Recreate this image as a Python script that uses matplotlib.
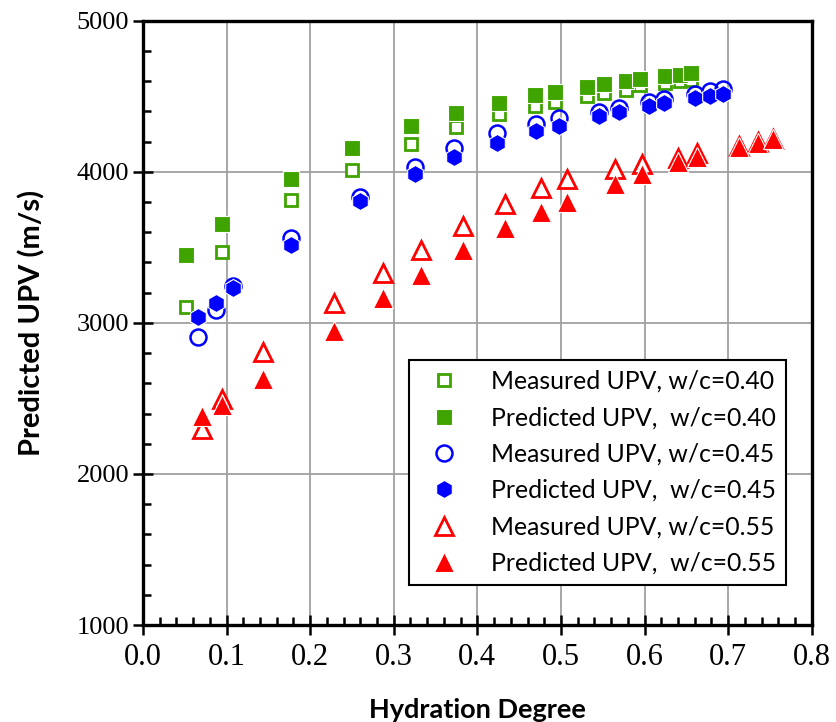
import matplotlib
matplotlib.use("Agg")
import matplotlib.pyplot as plt
from matplotlib.ticker import MultipleLocator, FixedLocator

# ---------------- data ----------------
x_040 = [0.051, 0.095, 0.177, 0.250, 0.321, 0.374, 0.426, 0.469, 0.493, 0.531,
         0.551, 0.578, 0.594, 0.625, 0.642, 0.655]
meas_040 = [3104, 3468, 3814, 4013, 4185, 4299, 4383, 4438, 4460, 4502,
            4520, 4542, 4572, 4590, 4598, 4606]
pred_040 = [3450, 3656, 3953, 4158, 4304, 4388, 4458, 4509, 4530, 4563,
            4581, 4601, 4612, 4636, 4641, 4652]

x_045 = [0.066, 0.087, 0.108, 0.177, 0.260, 0.326, 0.372, 0.423, 0.470, 0.498,
         0.546, 0.570, 0.605, 0.623, 0.660, 0.678, 0.694]
meas_045 = [2906, 3082, 3247, 3561, 3836, 4034, 4156, 4255, 4317, 4354,
            4398, 4421, 4464, 4480, 4515, 4537, 4546]
pred_045 = [3036, 3131, 3230, 3515, 3810, 3986, 4097, 4189, 4271, 4304,
            4370, 4398, 4436, 4454, 4487, 4502, 4515]

x_055 = [0.071, 0.094, 0.144, 0.228, 0.287, 0.333, 0.383, 0.433, 0.476, 0.507,
         0.565, 0.597, 0.640, 0.663, 0.713, 0.736, 0.754]
meas_055 = [2299, 2495, 2807, 3131, 3329, 3483, 3638, 3786, 3892, 3951,
            4019, 4050, 4094, 4123, 4172, 4198, 4220]
pred_055 = [2386, 2458, 2628, 2943, 3164, 3318, 3483, 3627, 3737, 3803,
            3918, 3986, 4063, 4097, 4167, 4193, 4216]

x_ticks = [0.0, 0.1, 0.2, 0.3, 0.4, 0.5, 0.6, 0.7, 0.8]
x_tick_labels = ["0.0", "0.1", "0.2", "0.3", "0.4", "0.5", "0.6", "0.7", "0.8"]
y_ticks = [1000, 2000, 3000, 4000, 5000]
y_tick_labels = ["1000", "2000", "3000", "4000", "5000"]

labels = ["Measured UPV, w/c=0.40", "Predicted UPV,  w/c=0.40",
          "Measured UPV, w/c=0.45", "Predicted UPV,  w/c=0.45",
          "Measured UPV, w/c=0.55", "Predicted UPV,  w/c=0.55"]

GREEN = "#3fa300"
BLUE = "#0000ff"
RED = "#ff0000"

# ---------------- figure ----------------
fig = plt.figure(figsize=(8.36, 7.22), dpi=100)
ax = fig.add_axes([0.171, 0.1343, 0.800, 0.837])

ax.plot(x_040, meas_040, ls="none", marker="s", ms=9, mfc="white", mec=GREEN, mew=2.0,
        label=labels[0], zorder=3)
ax.plot(x_040, pred_040, ls="none", marker="s", ms=12, mfc=GREEN, mec="white", mew=0.8,
        label=labels[1], zorder=4)
ax.plot(x_045, meas_045, ls="none", marker="o", ms=11.5, mfc="none", mec=BLUE, mew=1.8,
        label=labels[2], zorder=5)
ax.plot(x_045, pred_045, ls="none", marker="h", ms=13, mfc=BLUE, mec="white", mew=0.8,
        label=labels[3], zorder=6)
ax.plot(x_055, meas_055, ls="none", marker="^", ms=12.5, mfc="white", mec=RED, mew=2.0,
        label=labels[4], zorder=7)
ax.plot(x_055, pred_055, ls="none", marker="^", ms=14, mfc=RED, mec="white", mew=0.8,
        label=labels[5], zorder=8)

ax.set_xlim(0.0, 0.8)
ax.set_ylim(1000, 5000)

ax.xaxis.set_major_locator(FixedLocator(x_ticks))
ax.yaxis.set_major_locator(FixedLocator(y_ticks))
ax.set_xticklabels(x_tick_labels)
ax.set_yticklabels(y_tick_labels)
ax.xaxis.set_minor_locator(MultipleLocator(0.02))
ax.yaxis.set_minor_locator(MultipleLocator(200))

ax.grid(True, which="major", color="#a0a0a0", lw=1.3, zorder=0)
ax.set_axisbelow(True)

for s in ax.spines.values():
    s.set_linewidth(2.4)
    s.set_color("black")

ax.tick_params(axis="both", which="major", direction="inout", length=14, width=1.8,
               color="black", top=False, right=False)
ax.tick_params(axis="both", which="minor", direction="in", length=6, width=1.8,
               color="black", top=False, right=False)
ax.tick_params(axis="x", which="major", pad=6)
ax.tick_params(axis="y", which="major", pad=3)

for t in ax.get_xticklabels():
    t.set_fontfamily("Liberation Serif")
    t.set_fontsize(22)
for t in ax.get_yticklabels():
    t.set_fontfamily("Liberation Serif")
    t.set_fontsize(19)

ax.set_xlabel("Hydration Degree", fontfamily="Lato", fontweight="bold", fontsize=19.5,
              labelpad=19)
ax.set_ylabel("Predicted UPV (m/s)", fontfamily="Lato", fontweight="bold", fontsize=21,
              labelpad=22)

leg = ax.legend(loc="upper left", bbox_to_anchor=(0.398, 0.4385), frameon=True,
                fancybox=False, edgecolor="black", framealpha=1.0,
                prop={"family": "Lato", "size": 17.8}, borderpad=0.4,
                labelspacing=0.54, handletextpad=0.9, handlelength=2.0,
                borderaxespad=0.0, markerscale=1.0)
leg.get_frame().set_linewidth(1.5)
leg.set_zorder(20)

fig.savefig("out.png", dpi=100)
